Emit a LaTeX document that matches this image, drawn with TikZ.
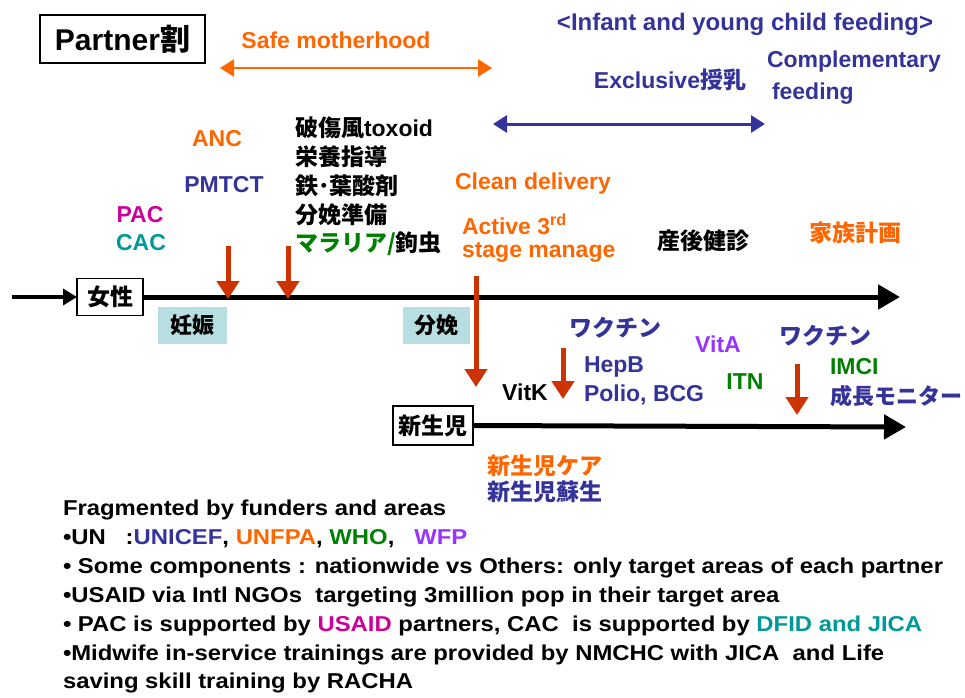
\documentclass[tikz,border=0pt]{standalone}
\usepackage{fontspec}
\setmainfont{Liberation Sans}
\newfontfamily\widesans[FakeStretch=1.11]{Liberation Sans}
\newfontfamily\jp{Noto Sans CJK JP}
\usetikzlibrary{arrows.meta}
\definecolor{org}{HTML}{FF6600}
\definecolor{nav}{HTML}{333399}
\definecolor{mag}{HTML}{CC0099}
\definecolor{tea}{HTML}{009999}
\definecolor{grn}{HTML}{008000}
\definecolor{pur}{HTML}{9933FF}
\definecolor{ared}{HTML}{CC3300}
\definecolor{lblue}{HTML}{B7DEE0}
\begin{document}
\begin{tikzpicture}[x=1pt,y=-1pt,
  every node/.style={inner sep=0pt, outer sep=0pt},
  t/.style={font=\fontsize{23}{27}\selectfont\bfseries},
  tj/.style={font=\fontsize{23}{27}\selectfont\bfseries\jp},
  bt/.style={font=\fontsize{21.5}{25}\selectfont\bfseries\widesans, anchor=west},
  frame/.style={draw, line width=1.5pt},
  phase/.style={fill=lblue, font=\fontsize{22}{26}\selectfont\bfseries\jp},
  redarrow/.style={draw=ared, line width=5pt, -{Triangle[length=18pt,width=22pt,fill=ared]}},
  spanarrow/.style={line width=#1, {Triangle[length=14pt,width=17pt]}-{Triangle[length=14pt,width=17pt]}},
  timeline/.style={line width=5pt, -{Triangle[length=22pt,width=24pt]}}
]
\useasboundingbox (0,0) rectangle (965,697);

% header
\node[frame, minimum width=165pt, minimum height=48pt, font=\fontsize{30}{34}\selectfont\bfseries] (partner) at (122.5,39) {Partner{\jp 割}};
\node[t, text=org] (safe) at (336,40) {Safe motherhood};
\coordinate (sm1) at (220,68);
\coordinate (sm2) at (492,68);
\draw[spanarrow=2.5pt, org] (sm1) -- (sm2);

\node[t, font=\fontsize{24}{28}\selectfont\bfseries, text=nav] (iycf) at (745,24) {<Infant and young child feeding>};
\node[t, text=nav] (excl) at (670,80) {Exclusive{\jp 授乳}};
\node[t, text=nav, anchor=west] (comp) at (767,62) {Complementary};
\node[t, text=nav, anchor=west] (feed) at (772,94) {feeding};
\coordinate (bf1) at (493,124);
\coordinate (bf2) at (765,124);
\draw[spanarrow=3pt, nav] (bf1) -- (bf2);

% antenatal items
\node[t, anchor=west] (tt) at (295,128) {{\jp 破傷風}toxoid};
\node[tj, anchor=west] (nut) at (295,157) {栄養指導};
\node[tj, anchor=west] (iron) at (295,186) {鉄･葉酸剤};
\node[tj, anchor=west] (prep) at (295,215) {分娩準備};
\node[tj, anchor=west] (mal) at (295,244) {\textcolor{grn}{マラリア/}鉤虫};

\node[t, text=org] (anc) at (217,139) {ANC};
\node[t, text=nav] (pmtct) at (224,185) {PMTCT};
\node[t, text=mag] (pac) at (140,215) {PAC};
\node[t, text=tea] (cac) at (141,243) {CAC};

\node[t, text=org, anchor=west] (clean) at (455,184) {Clean delivery};
\node[t, text=org, anchor=west] (act) at (462,224) {Active 3\textsuperscript{rd}};
\node[t, text=org, anchor=west] (stage) at (462,252) {stage manage};
\node[tj] (pnc) at (703,241) {産後健診};
\node[tj, text=org] (fp) at (855,233) {家族計画};

% woman timeline
\coordinate (wstart) at (12,297);
\node[frame, minimum width=66pt, minimum height=37pt, tj] (woman) at (110,297) {女性};
\coordinate (wend) at (900,297);
\draw[line width=3.5pt, -{Triangle[length=14pt,width=16pt]}] (wstart) -- (woman.west);
\draw[timeline] (woman.east) -- (wend);

\node[phase, minimum width=69pt, minimum height=37pt] (preg) at (192.5,325.5) {妊娠};
\node[phase, minimum width=67pt, minimum height=37pt] (deliv) at (436.5,325.5) {分娩};

\coordinate (a1s) at (228,246); \coordinate (a1e) at (228,299);
\coordinate (a2s) at (288,246); \coordinate (a2e) at (288,299);
\draw[redarrow] (a1s) -- (a1e);
\draw[redarrow] (a2s) -- (a2e);
\coordinate (a3s) at (476,276); \coordinate (a3e) at (476,387);
\draw[redarrow] (a3s) -- (a3e);

% newborn items
\node[t] (vitk) at (525,392) {VitK};
\coordinate (a4s) at (563,348); \coordinate (a4e) at (563,399);
\draw[redarrow] (a4s) -- (a4e);
\node[tj, text=nav] (vac1) at (615,328) {ワクチン};
\node[t, text=nav, anchor=west] (hepb) at (584,367) {HepB};
\node[t, text=nav, anchor=west] (polio) at (584,395) {Polio, BCG};
\node[t, text=pur] (vita) at (718,344) {VitA};
\node[t, text=grn] (itn) at (745,382) {ITN};
\node[tj, text=nav] (vac2) at (825,336) {ワクチン};
\coordinate (a5s) at (797,364); \coordinate (a5e) at (797,415);
\draw[redarrow] (a5s) -- (a5e);
\node[t, text=grn, anchor=west] (imci) at (830,367) {IMCI};
\node[tj, font=\fontsize{22}{26}\selectfont\bfseries\jp, text=nav, anchor=west] (gm) at (830,396) {成長モニター};

% newborn timeline
\node[frame, minimum width=80pt, minimum height=39pt, tj] (nb) at (433,425.5) {新生児};
\coordinate (nbend) at (906,427);
\draw[timeline] (nb.east) -- (nbend);
\node[tj, text=org, anchor=west] (nbc) at (487,466) {新生児ケア};
\node[tj, text=nav, anchor=west] (nbr) at (487,492) {新生児蘇生};

% notes
\node[bt] (n1) at (63,510) {Fragmented by funders and areas};
\node[bt] (n2) at (63,539) {\textbullet UN\ \ \ :\textcolor{nav}{UNICEF}, \textcolor{org}{UNFPA}, \textcolor{grn}{WHO},\ \ \ \textcolor{pur}{WFP}};
\node[bt] (n3) at (63,568) {\textbullet{} Some components : nationwide vs Others: only target areas of each partner};
\node[bt] (n4) at (63,597) {\textbullet USAID via Intl NGOs\ \ targeting 3million pop in their target area};
\node[bt] (n5) at (63,626) {\textbullet{} PAC is supported by \textcolor{mag}{USAID} partners, CAC\ \ is supported by \textcolor{tea}{DFID and JICA}};
\node[bt] (n6) at (63,655) {\textbullet Midwife in-service trainings are provided by NMCHC with JICA\ \ and Life};
\node[bt] (n7) at (63,683) {saving skill training by RACHA};
\end{tikzpicture}
\end{document}
